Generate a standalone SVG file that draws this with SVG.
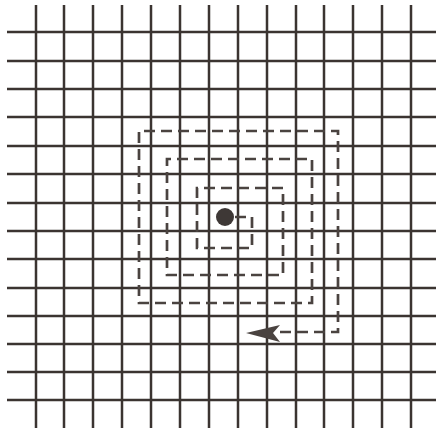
<svg xmlns="http://www.w3.org/2000/svg" width="436" height="432" viewBox="0 0 436 432">
<style>
.g{stroke:#3b3431;stroke-width:2.5;fill:none}
.s{stroke:#4a4340;stroke-width:2.7;fill:none;stroke-dasharray:11 6}
</style>
<rect width="436" height="432" fill="#ffffff"/>
<g id="grid" class="g">
<path d="M36 5V428M64 5V428M93 5V428M122 5V428M151 5V428M180 5V428M209 5V428M238 5V428M267 5V428M296 5V428M324 5V428M353 5V428M382 5V428M411 5V428"/>
<path d="M7 32H436M7 61H436M7 89H436M7 117H436M7 146H436M7 174H436M7 203H436M7 231H436M7 259H436M7 288H436M7 316H436M7 344H436M7 372H436M7 400H436"/>
</g>
<g id="connectors">
<path class="s" d="M235 217H252V248H197V188H283V275H167V159H312V303H139V131H338V332H276"/>
<polygon points="246,333 280,325 273,333 280,342" fill="#4a4340"/>
</g>
<g id="dot">
<circle cx="225" cy="217" r="9" fill="#3e3836"/>
</g>
</svg>
